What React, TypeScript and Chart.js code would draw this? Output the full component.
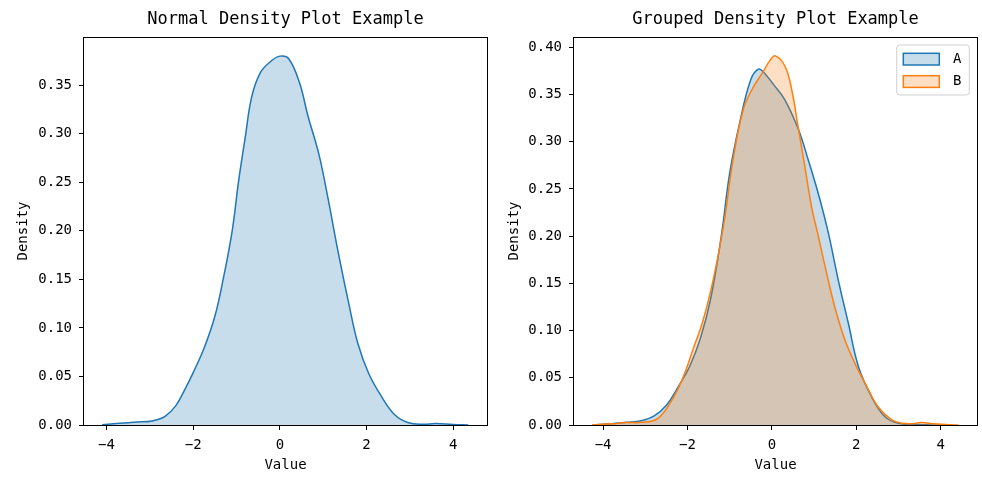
import React, { useEffect, useRef } from "react";
import { Chart, registerables } from "chart.js";

Chart.register(...registerables);

const FONT = '"DejaVu Sans Mono", "Liberation Mono", monospace';

// ---- data ----
const chartTitles = ["Normal Density Plot Example", "Grouped Density Plot Example"];
const xAxisTitle = "Value";
const yAxisTitle = "Density";

const normalX = [-4.1, -3.7, -3.3, -2.95, -2.65, -2.4, -2.2, -2.0, -1.75, -1.5, -1.3, -1.1, -0.95, -0.8, -0.65, -0.45, -0.2, 0.0, 0.2, 0.45, 0.65, 0.9, 1.1, 1.35, 1.6, 1.8, 2.05, 2.35, 2.65, 2.95, 3.3, 3.6, 4.0, 4.35];
const normalY = [0.0003, 0.0017, 0.003, 0.0042, 0.009, 0.02, 0.036, 0.054, 0.079, 0.112, 0.152, 0.2, 0.252, 0.296, 0.338, 0.363, 0.375, 0.38, 0.3776, 0.353, 0.318, 0.279, 0.236, 0.177, 0.123, 0.084, 0.053, 0.029, 0.0105, 0.0026, 0.0008, 0.0015, 0.0005, 0.0001];

const seriesLabels = ["A", "B"];
const groupAX = [-4.25, -3.8, -3.45, -3.1, -2.8, -2.5, -2.2, -1.95, -1.7, -1.45, -1.2, -1.0, -0.75, -0.5, -0.32, -0.2, 0.05, 0.3, 0.62, 0.86, 1.1, 1.34, 1.57, 1.81, 2.05, 2.36, 2.68, 3.0, 3.4, 3.8, 4.2];
const groupAY = [0.0002, 0.0012, 0.0028, 0.0046, 0.0095, 0.021, 0.042, 0.062, 0.091, 0.134, 0.2, 0.267, 0.323, 0.366, 0.377, 0.374, 0.36, 0.345, 0.314, 0.281, 0.245, 0.203, 0.154, 0.108, 0.062, 0.03, 0.0088, 0.0018, 0.0004, 0.0001, 0.0];
const groupBX = [-4.25, -3.8, -3.45, -3.1, -2.7, -2.35, -2.1, -1.87, -1.63, -1.39, -1.15, -0.92, -0.68, -0.44, -0.21, -0.05, 0.08, 0.31, 0.47, 0.62, 0.78, 0.94, 1.1, 1.26, 1.49, 1.73, 1.97, 2.21, 2.52, 2.84, 3.1, 3.35, 3.55, 3.85, 4.42];
const groupBY = [0.0002, 0.0012, 0.0026, 0.0028, 0.0071, 0.028, 0.051, 0.08, 0.111, 0.154, 0.21, 0.281, 0.334, 0.358, 0.374, 0.386, 0.391, 0.38, 0.355, 0.316, 0.274, 0.231, 0.2, 0.168, 0.125, 0.09, 0.065, 0.044, 0.019, 0.0053, 0.0018, 0.0015, 0.0027, 0.0012, 0.0];

const xTicks = [-4, -2, 0, 2, 4];
const leftYTicks = [0, 0.05, 0.1, 0.15, 0.2, 0.25, 0.3, 0.35];
const rightYTicks = [0, 0.05, 0.1, 0.15, 0.2, 0.25, 0.3, 0.35, 0.4];

const BLUE = "#1f77b4";
const ORANGE = "#ff7f0e";
const BLUE_FILL = "rgba(31,119,180,0.25)";
const ORANGE_FILL = "rgba(255,127,14,0.25)";

const toPoints = (xs: number[], ys: number[]) => xs.map((x, i) => ({ x, y: ys[i] }));

const framePlugin = {
  id: "frame",
  afterDraw(chart: any) {
    const { ctx, chartArea: a } = chart;
    ctx.save();
    ctx.strokeStyle = "#000";
    ctx.lineWidth = 1;
    ctx.strokeRect(Math.round(a.left) - 0.5, Math.round(a.top) + 0.5, Math.round(a.right - a.left) + 1, Math.round(a.bottom - a.top));
    ctx.restore();
  },
};

const legendPlugin = {
  id: "boxLegend",
  afterDraw(chart: any) {
    const { ctx, chartArea: a } = chart;
    const w = 72.6;
    const h = 50;
    const x = a.right - 7.7 - w;
    const y = a.top + 8;
    ctx.save();
    ctx.beginPath();
    const r = 3;
    ctx.moveTo(x + r, y);
    ctx.lineTo(x + w - r, y);
    ctx.quadraticCurveTo(x + w, y, x + w, y + r);
    ctx.lineTo(x + w, y + h - r);
    ctx.quadraticCurveTo(x + w, y + h, x + w - r, y + h);
    ctx.lineTo(x + r, y + h);
    ctx.quadraticCurveTo(x, y + h, x, y + h - r);
    ctx.lineTo(x, y + r);
    ctx.quadraticCurveTo(x, y, x + r, y);
    ctx.closePath();
    ctx.fillStyle = "rgba(255,255,255,0.8)";
    ctx.fill();
    ctx.strokeStyle = "#d0d0d0";
    ctx.lineWidth = 1;
    ctx.stroke();
    chart.data.datasets.forEach((ds: any, i: number) => {
      const py = y + 8.3 + i * 22.4;
      ctx.fillStyle = "#fff";
      ctx.fillRect(x + 6.6, py, 36, 11.7);
      ctx.fillStyle = ds.backgroundColor;
      ctx.fillRect(x + 6.6, py, 36, 11.7);
      ctx.strokeStyle = ds.borderColor;
      ctx.lineWidth = 1.5;
      ctx.strokeRect(x + 6.6, py, 36, 11.7);
      ctx.fillStyle = "#000";
      ctx.font = `14px ${FONT}`;
      ctx.textAlign = "center";
      ctx.textBaseline = "middle";
      ctx.fillText(ds.label, x + 60.6, py + 6);
    });
    ctx.restore();
  },
};

function makeOptions(title: string, xMin: number, xMax: number, yMax: number, yTicks: number[], rightPad: number, yWidth: number) {
  const tickFont = { family: FONT, size: 14 };
  return {
    responsive: false,
    animation: false as const,
    events: [] as any[],
    layout: { padding: { left: 0, right: rightPad, top: 0, bottom: 0 } },
    plugins: {
      legend: { display: false },
      tooltip: { enabled: false },
      title: {
        display: true,
        fullSize: false,
        text: title,
        color: "#000",
        font: { family: FONT, size: 17, weight: "normal" as const, lineHeight: 1.2 },
        padding: { top: 9, bottom: 7.6 },
      },
    },
    scales: {
      x: {
        type: "linear" as const,
        min: xMin,
        max: xMax,
        afterBuildTicks: (s: any) => {
          s.ticks = xTicks.map((value) => ({ value }));
        },
        afterFit: (s: any) => {
          s.height = 52;
        },
        ticks: {
          autoSkip: false,
          maxRotation: 0,
          color: "#000",
          font: tickFont,
          padding: 7,
          callback: (v: any) => (Number(v) < 0 ? "\u2212" + Math.abs(Number(v)) : String(v)),
        },
        grid: { drawOnChartArea: false, drawTicks: true, tickLength: 5, tickColor: "#000", lineWidth: 1 },
        border: { display: false },
        title: {
          display: true,
          text: xAxisTitle,
          color: "#000",
          font: { family: FONT, size: 14, lineHeight: 1.2 },
          padding: { top: 0, bottom: 3.2 },
        },
      },
      y: {
        type: "linear" as const,
        min: 0,
        max: yMax,
        afterBuildTicks: (s: any) => {
          s.ticks = yTicks.map((value) => ({ value }));
        },
        afterFit: (s: any) => {
          s.width = yWidth;
        },
        ticks: {
          autoSkip: false,
          color: "#000",
          font: tickFont,
          padding: 7,
          callback: (v: any) => Number(v).toFixed(2),
        },
        grid: { drawOnChartArea: false, drawTicks: true, tickLength: 5, tickColor: "#000", lineWidth: 1 },
        border: { display: false },
        title: {
          display: true,
          text: yAxisTitle,
          color: "#000",
          font: { family: FONT, size: 14, lineHeight: 1.2 },
          padding: { top: 15, bottom: 0 },
        },
      },
    },
  };
}

const lineStyle = {
  borderWidth: 1.5,
  pointRadius: 0,
  fill: "origin",
  tension: 0.4,
};

export default function App() {
  const leftRef = useRef<HTMLCanvasElement | null>(null);
  const rightRef = useRef<HTMLCanvasElement | null>(null);

  useEffect(() => {
    if (!leftRef.current || !rightRef.current) return;
    const c1 = new Chart(leftRef.current, {
      type: "line",
      data: {
        datasets: [
          {
            label: "density",
            data: toPoints(normalX, normalY),
            borderColor: BLUE,
            backgroundColor: BLUE_FILL,
            ...lineStyle,
          } as any,
        ],
      },
      options: makeOptions(chartTitles[0], -4.52, 4.78, 0.3997, leftYTicks, 4, 84) as any,
      plugins: [framePlugin],
    });
    const c2 = new Chart(rightRef.current, {
      type: "line",
      data: {
        datasets: [
          {
            label: seriesLabels[0],
            data: toPoints(groupAX, groupAY),
            borderColor: BLUE,
            backgroundColor: BLUE_FILL,
            ...lineStyle,
            order: 1,
          } as any,
          {
            label: seriesLabels[1],
            data: toPoints(groupBX, groupBY),
            borderColor: ORANGE,
            backgroundColor: ORANGE_FILL,
            ...lineStyle,
            order: 0,
          } as any,
        ],
      },
      options: makeOptions(chartTitles[1], -4.69, 4.86, 0.411, rightYTicks, 5, 83) as any,
      plugins: [framePlugin, legendPlugin],
    });
    return () => {
      c1.destroy();
      c2.destroy();
    };
  }, []);

  return (
    <div style={{ position: "fixed", left: 0, top: 0, width: 982, height: 477, background: "#fff" }}>
      <canvas ref={leftRef} width={491} height={477} style={{ position: "absolute", left: 0, top: 0, width: 491, height: 477 }} />
      <canvas ref={rightRef} width={491} height={477} style={{ position: "absolute", left: 491, top: 0, width: 491, height: 477 }} />
    </div>
  );
}
